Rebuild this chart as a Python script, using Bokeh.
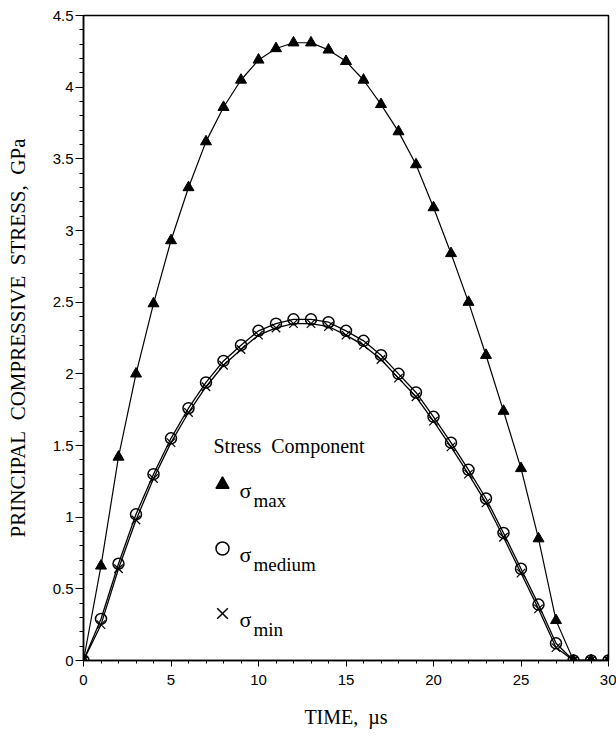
from bokeh.plotting import figure
from bokeh.models import FixedTicker, Label
from bokeh.embed import file_html
from bokeh.resources import INLINE

# ---- data ----
time_us = list(range(31))
sigma_max = [0, 0.66, 1.42, 2.00, 2.49, 2.93, 3.30, 3.62, 3.86, 4.05, 4.19,
             4.27, 4.31, 4.31, 4.26, 4.18, 4.05, 3.88, 3.69, 3.46, 3.16,
             2.84, 2.50, 2.13, 1.74, 1.34, 0.85, 0.28, 0, 0, 0]
sigma_medium = [0, 0.29, 0.675, 1.02, 1.30, 1.55, 1.76, 1.94, 2.09, 2.20, 2.30,
                2.35, 2.38, 2.38, 2.36, 2.30, 2.23, 2.13, 2.00, 1.87, 1.70,
                1.52, 1.33, 1.13, 0.89, 0.64, 0.39, 0.12, 0, 0, 0]
sigma_min = [0, 0.25, 0.64, 0.98, 1.27, 1.52, 1.73, 1.91, 2.06, 2.17, 2.27,
             2.32, 2.35, 2.35, 2.33, 2.27, 2.20, 2.10, 1.97, 1.84, 1.67,
             1.49, 1.30, 1.10, 0.86, 0.61, 0.36, 0.09, 0, 0, 0]

x_ticks = [0, 5, 10, 15, 20, 25, 30]
x_tick_labels = ["0", "5", "10", "15", "20", "25", "30"]
y_ticks = [0, 0.5, 1, 1.5, 2, 2.5, 3, 3.5, 4, 4.5]
y_tick_labels = ["0", "0.5", "1", "1.5", "2", "2.5", "3", "3.5", "4", "4.5"]
x_minor = [i for i in range(31)]
y_minor = [i / 10 for i in range(46)]

NB = "\u00a0"
legend_title = "Stress" + NB + " Component"
legend_subs = ["max", "medium", "min"]
x_title = "TIME," + NB + " \u00b5s"
y_title = ("PRINCIPAL" + NB + " COMPRESSIVE" + NB + " STRESS," + NB + " GPa")

# ---- layout ----
L, T, FW, FH = 83, 15, 525, 645
XMAX, YMAX = 30, 4.5


def dx(px):
    return (px - L) / FW * XMAX


def dy(py):
    return (T + FH - py) / FH * YMAX


p = figure(width=616, height=738, frame_width=FW, frame_height=FH,
           x_range=(0, XMAX), y_range=(0, YMAX),
           output_backend="svg", toolbar_location=None,
           min_border_left=L, min_border_top=T, min_border_right=8,
           min_border_bottom=78)
p.background_fill_color = "white"
p.border_fill_color = "white"
p.outline_line_color = "black"
p.outline_line_width = 1.5
p.xgrid.visible = False
p.ygrid.visible = False

p.xaxis.ticker = FixedTicker(ticks=x_ticks, minor_ticks=x_minor)
p.yaxis.ticker = FixedTicker(ticks=y_ticks, minor_ticks=y_minor)
p.xaxis.major_label_overrides = {t: s for t, s in zip(x_ticks, x_tick_labels)}
p.yaxis.major_label_overrides = {t: s for t, s in zip(y_ticks, y_tick_labels)}

for ax in (p.xaxis, p.yaxis):
    ax.axis_line_color = "black"
    ax.axis_line_width = 1.5
    ax.major_tick_line_color = "black"
    ax.minor_tick_line_color = "black"
    ax.major_tick_in = 0
    ax.minor_tick_in = 0
    ax.major_label_text_font = "Liberation Sans"
    ax.major_label_text_font_size = "15px"
    ax.major_label_text_color = "black"
    ax.axis_label_text_font = "Liberation Serif"
    ax.axis_label_text_font_style = "normal"
    ax.axis_label_text_color = "black"

p.xaxis.major_tick_out = 6
p.xaxis.minor_tick_out = 3
p.xaxis.major_label_standoff = 8
p.xaxis.axis_label = x_title
p.xaxis.axis_label_text_font_size = "20px"
p.xaxis.axis_label_standoff = 18

p.yaxis.major_tick_out = 8
p.yaxis.minor_tick_out = 4
p.yaxis.major_label_standoff = 2
p.yaxis.axis_label = y_title
p.yaxis.axis_label_text_font_size = "21px"
p.yaxis.axis_label_standoff = 20

# ---- series ----
p.line(time_us, sigma_medium, line_color="black", line_width=1.3)
p.line(time_us, sigma_min, line_color="black", line_width=1.3)
p.line(time_us, sigma_max, line_color="black", line_width=1.2)

p.scatter(time_us, sigma_min, marker="x", size=12, line_color="black",
          line_width=1.2)
p.scatter(time_us, sigma_medium, marker="circle", size=11, line_color="black",
          fill_color=None, line_width=1.5)
p.scatter(time_us, sigma_max, marker="triangle", size=11, line_color="black",
          fill_color="black")

# ---- legend (hand-drawn, as in the reference) ----
p.add_layout(Label(x=dx(213), y=dy(445), text=legend_title,
                   text_font="Liberation Serif", text_font_size="20px",
                   text_color="black", text_baseline="alphabetic"))

rows = [484, 548, 613]
markers = ["triangle", "circle", "x"]
sizes = [13, 13, 15]
fills = ["black", None, None]
for cy, mk, sz, fc, sub in zip(rows, markers, sizes, fills, legend_subs):
    p.scatter([dx(222)], [dy(cy)], marker=mk, size=sz, line_color="black",
              fill_color=fc, line_width=1.5)
    p.add_layout(Label(x=dx(239), y=dy(cy + 6), text="\u03c3",
                       text_font="Liberation Serif", text_font_size="22px",
                       text_color="black", text_baseline="alphabetic"))
    p.add_layout(Label(x=dx(253), y=dy(cy + 16), text=sub,
                       text_font="Liberation Serif", text_font_size="19px",
                       text_color="black", text_baseline="alphabetic"))

open("out.html", "w").write(file_html(p, INLINE))
